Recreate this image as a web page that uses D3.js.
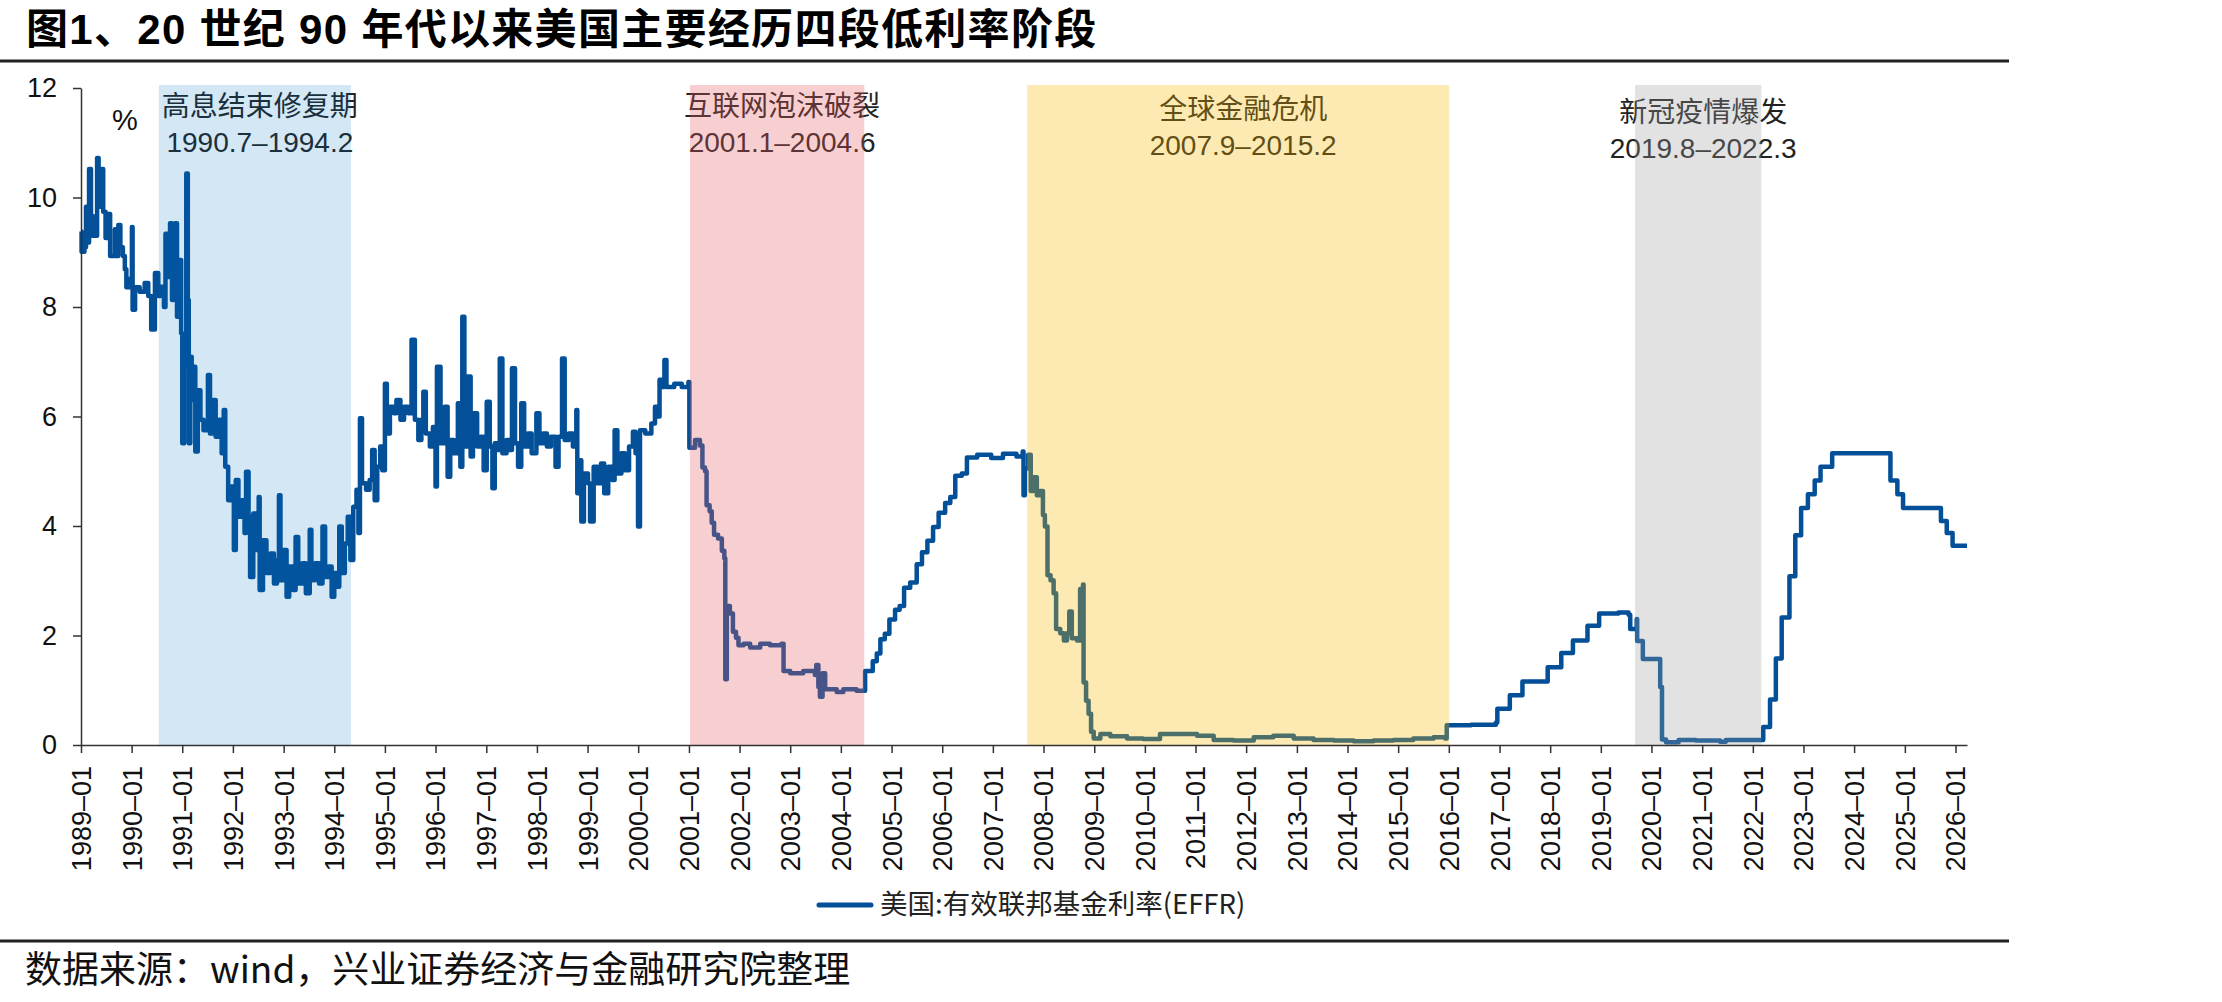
<!DOCTYPE html>
<html>
<head>
<meta charset="utf-8">
<script src="https://cdn.jsdelivr.net/npm/d3@7"></script>
<style>
  html, body { margin: 0; padding: 0; background: #fff; }
  svg { display: block; }
</style>
</head>
<body>
<div id="vis"></div>
<script>
// EFFR readings (date, %) taken off the chart, grouped by period
var rates1989 = [
  ["1989-01-01",9.38],["1989-01-05",9.01],["1989-01-26",9.09],["1989-02-06",9.83],["1989-02-17",9.18],
  ["1989-02-28",10.52],["1989-03-14",9.66],["1989-03-28",9.30],["1989-04-27",10.72],["1989-05-08",9.83],
  ["1989-05-30",10.52],["1989-06-10",9.74],["1989-06-27",9.26],["1989-07-15",9.70],["1989-07-30",8.93],
  ["1989-09-02",9.42],["1989-09-13",8.93],["1989-09-27",9.50],["1989-10-12",9.09],["1989-10-30",8.93],
  ["1989-11-13",8.69],["1989-11-24",8.36],["1989-12-20",8.52],["1990-01-03",9.46],["1990-01-08",7.95],
  ["1990-01-26",8.36],["1990-02-28",8.28],["1990-04-05",8.44],["1990-05-01",8.20],["1990-05-22",7.59],
  ["1990-06-18",8.62],["1990-07-12",8.20]
];

var rates1990 = [
  ["1990-07-30",8.37],["1990-08-22",8.00],["1990-09-02",9.34],["1990-09-20",8.55],["1990-10-05",9.53],
  ["1990-10-19",8.13],["1990-10-30",8.92],["1990-11-10",9.53],["1990-11-24",7.82],["1990-12-13",8.86],
  ["1990-12-24",7.52],["1991-01-01",5.51],["1991-01-15",6.91],["1991-01-30",10.44],["1991-02-10",8.13],
  ["1991-02-17",5.51],["1991-02-28",7.09],["1991-03-10",6.30],["1991-03-25",6.91],["1991-04-05",5.36],
  ["1991-04-23",6.48],["1991-05-12",5.94],["1991-06-03",5.75],["1991-06-24",5.81],["1991-07-05",6.76],
  ["1991-07-20",5.69],["1991-08-12",6.30],["1991-08-30",5.63],["1991-09-24",5.94],["1991-10-12",5.33],
  ["1991-10-27",6.12],["1991-11-07",5.08],["1991-11-28",4.47],["1991-12-16",4.72],["1992-01-08",3.56],
  ["1992-01-22",4.84],["1992-02-10",4.17],["1992-03-03",4.47],["1992-03-25",3.87],["1992-04-05",4.99],
  ["1992-04-23",4.17],["1992-05-04",3.07],["1992-05-27",4.23],["1992-06-18",3.56],["1992-07-05",4.53],
  ["1992-07-12",2.83],["1992-08-05",3.74],["1992-08-30",3.14],["1992-09-27",3.50],["1992-10-23",2.95],
  ["1992-11-14",3.38],["1992-11-28",4.56],["1992-12-09",3.01],["1993-01-01",3.56],["1993-01-22",2.71],
  ["1993-02-10",3.26],["1993-03-10",2.83],["1993-03-28",3.80],["1993-04-16",2.95],["1993-05-15",3.32],
  ["1993-06-10",2.77],["1993-07-08",3.93],["1993-07-20",3.01],["1993-08-15",3.32],["1993-09-13",2.95],
  ["1993-10-08",3.99],["1993-10-27",3.07],["1993-11-21",3.26],["1993-12-13",2.71],["1994-01-01",3.14],
  ["1994-01-22",2.89],["1994-02-06",3.99],["1994-02-24",3.14],["1994-03-18",3.68],["1994-04-08",4.17],
  ["1994-04-27",3.38]
];

var rates1994 = [
  ["1994-05-18",4.35],["1994-06-10",4.66],["1994-06-24",3.87],["1994-07-05",5.97],["1994-07-20",4.78],
  ["1994-08-18",4.66],["1994-09-13",4.84],["1994-10-01",5.39],["1994-10-19",4.47],["1994-11-07",5.08],
  ["1994-11-28",5.45],["1994-12-13",5.02],["1995-01-01",6.60],["1995-01-15",5.69],["1995-02-06",6.18],
  ["1995-03-07",6.06],["1995-03-25",6.30],["1995-04-23",5.94],["1995-05-19",6.18],["1995-06-18",6.06],
  ["1995-07-12",7.40],["1995-08-05",5.94],["1995-08-30",5.57],["1995-09-21",5.94],["1995-10-05",6.45],
  ["1995-10-23",5.69],["1995-11-21",5.45],["1995-12-13",5.81],["1996-01-01",4.72],["1996-01-11",6.91],
  ["1996-02-06",5.51],["1996-03-07",6.18],["1996-03-28",4.90],["1996-04-16",5.57],["1996-05-12",5.33],
  ["1996-06-10",6.24],["1996-06-28",5.08],["1996-07-12",7.82],["1996-07-27",5.45],["1996-08-18",6.73],
  ["1996-09-10",5.27],["1996-09-27",6.06],["1996-10-27",5.45],["1996-11-21",5.63],["1996-12-13",5.02],
  ["1997-01-04",6.27],["1997-01-26",5.45],["1997-02-14",4.69],["1997-03-03",5.51],["1997-03-25",5.39],
  ["1997-04-08",7.06],["1997-04-27",5.33],["1997-05-27",5.57],["1997-06-18",5.39],["1997-07-05",6.88],
  ["1997-07-27",5.51],["1997-08-18",5.08],["1997-09-10",6.24],["1997-10-01",5.45],["1997-10-27",5.69],
  ["1997-11-24",5.33],["1997-12-28",6.06],["1998-01-19",5.51],["1998-02-14",5.69],["1998-03-14",5.45],
  ["1998-04-12",5.63],["1998-05-15",5.08],["1998-06-06",5.63],["1998-07-01",7.06],["1998-07-20",5.57],
  ["1998-08-18",5.69],["1998-09-17",5.45],["1998-10-12",6.12],["1998-10-19",4.60],["1998-11-10",5.20],
  ["1998-11-17",4.08],["1998-12-06",4.96],["1999-01-04",4.78],["1999-01-19",4.08],["1999-02-14",5.08],
  ["1999-03-14",4.78],["1999-04-08",5.14],["1999-05-01",4.60],["1999-05-30",5.08],["1999-06-28",4.84],
  ["1999-07-15",5.75],["1999-08-04",4.96],["1999-09-02",5.33],["1999-09-27",5.02],["1999-10-27",5.45],
  ["1999-11-24",5.72],["1999-12-13",5.33],["1999-12-31",3.99],["2000-01-14",5.75],["2000-02-21",5.69],
  ["2000-04-05",5.87],["2000-05-01",6.18],["2000-05-22",6.00],["2000-06-03",6.67],["2000-06-24",6.54],
  ["2000-07-08",7.03],["2000-07-23",6.54],["2000-09-17",6.60],["2000-11-10",6.54],["2000-12-28",6.63]
];

var rates2001 = [
  ["2001-01-04",5.43],["2001-02-14",5.57],["2001-03-21",5.47],["2001-04-08",5.07],["2001-04-27",5.00],
  ["2001-05-08",4.38],["2001-05-30",4.27],["2001-06-14",4.06],["2001-07-01",3.84],["2001-07-30",3.77],
  ["2001-08-26",3.55],["2001-09-13",3.41],["2001-09-20",1.20],["2001-10-01",2.54],["2001-10-23",2.40],
  ["2001-11-14",2.07],["2001-12-06",1.96],["2001-12-24",1.82],["2002-01-30",1.85],["2002-03-18",1.78],
  ["2002-05-30",1.85],["2002-08-08",1.82],["2002-10-30",1.85],["2002-11-14",1.35],["2003-01-01",1.31],
  ["2003-04-05",1.35],["2003-06-28",1.28],["2003-07-08",1.46],["2003-07-23",1.06],["2003-08-03",0.88],
  ["2003-08-22",1.31],["2003-09-10",1.02],["2003-12-02",0.97],["2004-01-19",1.02],["2004-04-23",0.99],
  ["2004-06-24",1.35],["2004-08-18",1.53],["2004-09-16",1.67],["2004-10-12",1.93],["2004-11-13",2.03],
  ["2004-12-16",2.29],["2005-01-26",2.47],["2005-02-28",2.54],["2005-04-01",2.87],["2005-05-15",2.97],
  ["2005-07-01",3.30],["2005-08-08",3.52],["2005-09-16",3.73],["2005-10-27",3.98],["2005-12-06",4.24],
  ["2006-01-22",4.42],["2006-02-28",4.53],["2006-04-05",4.92],["2006-05-22",4.96],["2006-06-28",5.25],
  ["2006-09-10",5.30],["2006-12-20",5.24],["2007-03-15",5.32],["2007-06-20",5.27],["2007-08-04",5.36],
  ["2007-08-10",4.56],["2007-08-20",5.05]
];

var rates2007 = [
  ["2007-09-13",5.30],["2007-10-01",4.64],["2007-10-19",4.89],["2007-11-14",4.56],["2007-12-06",4.64],
  ["2007-12-28",4.20],["2008-01-11",3.99],["2008-01-30",3.10],["2008-02-21",3.01],["2008-03-14",2.77],
  ["2008-04-01",2.12],["2008-05-01",2.04],["2008-05-27",1.91],["2008-06-18",2.04],["2008-07-05",2.44],
  ["2008-07-23",1.95],["2008-08-30",1.91],["2008-09-21",2.85],["2008-10-12",2.93],["2008-10-16",1.14],
  ["2008-11-03",0.81],["2008-11-21",0.57],["2008-12-09",0.24],["2008-12-28",0.12],["2009-02-14",0.20],
  ["2009-04-27",0.16],["2009-08-26",0.12],["2009-12-20",0.11],["2010-04-20",0.20],["2010-09-13",0.20],
  ["2011-01-12",0.17],["2011-05-12",0.09],["2011-10-01",0.08],["2012-02-25",0.14],["2012-07-15",0.17],
  ["2012-12-09",0.12],["2013-05-01",0.09],["2013-09-24",0.08],["2014-02-14",0.07],["2014-07-08",0.08],
  ["2014-11-28",0.09],["2015-04-20",0.12],["2015-09-13",0.14],["2015-12-06",0.12],["2015-12-17",0.36]
];

var rates2016 = [
  ["2016-06-10",0.37],["2016-12-06",0.41],["2016-12-16",0.66],["2017-03-16",0.91],["2017-06-15",1.16],
  ["2017-12-14",1.42],["2018-03-22",1.68],["2018-06-14",1.91],["2018-09-27",2.18],["2018-12-20",2.40],
  ["2019-05-08",2.42],["2019-07-20",2.38],["2019-08-01",2.12],["2019-09-17",2.30],["2019-09-20",1.90],
  ["2019-10-31",1.57],["2020-03-04",1.06],["2020-03-17",0.10],["2020-04-15",0.05],["2020-07-15",0.09],
  ["2020-11-15",0.08],["2021-05-10",0.06],["2021-06-20",0.09],["2022-03-17",0.33],["2022-05-05",0.83],
  ["2022-06-16",1.58],["2022-07-28",2.33],["2022-09-22",3.08],["2022-11-03",3.83],["2022-12-15",4.33],
  ["2023-02-02",4.58],["2023-03-23",4.83],["2023-05-04",5.08],["2023-07-27",5.33],["2024-09-19",4.83],
  ["2024-11-08",4.58],["2024-12-19",4.33],["2025-09-18",4.09],["2025-10-30",3.87],["2025-12-11",3.64],
  ["2026-03-25",3.64]
];

// the four low-rate periods
var bandStart  = ["1990-07-16", "2001-01-08", "2007-09-05", "2019-09-05"];
var bandEnd    = ["1994-05-01", "2004-06-18", "2016-01-04", "2022-03-03"];
var bandTitle  = ["高息结束修复期", "互联网泡沫破裂", "全球金融危机", "新冠疫情爆发"];
var bandPeriod = ["1990.7–1994.2", "2001.1–2004.6", "2007.9–2015.2", "2019.8–2022.3"];

var yTicks = [0, 2, 4, 6, 8, 10, 12];

var titleText  = "图1、20 世纪 90 年代以来美国主要经历四段低利率阶段";
var legendText = "美国:有效联邦基金利率(EFFR)";
var sourceText = "数据来源：wind，兴业证券经济与金融研究院整理";

// styles
var lineColor   = "#034f98";
var bandFill    = ["#0070c0", "#e85f62", "#f8b900", "#9e9e9e"];
var bandOpacity = [0.17, 0.3, 0.3, 0.3];
var labelShift  = [0, 0, 3, 6];
var latin = "'Liberation Sans', Arial, 'Noto Sans CJK SC', sans-serif";
var cjk   = "'Noto Sans CJK SC', 'Liberation Sans', sans-serif";

var width = 2222, height = 1002;
var margin = { top: 88, left: 81, bottom: 257, right: 255 };

var parse = d3.timeParse("%Y-%m-%d");
var effr = [].concat(rates1989, rates1990, rates1994, rates2001, rates2007, rates2016)
  .map(function (d) { return { date: parse(d[0]), value: d[1] }; });

var svg = d3.select("#vis").append("svg")
  .attr("width", width)
  .attr("height", height);

svg.append("rect").attr("width", width).attr("height", height).attr("fill", "#fff");

var x = d3.scaleTime()
  .domain([parse("1989-01-01"), parse("2026-03-25")])
  .range([margin.left, width - margin.right]);

var y = d3.scaleLinear()
  .domain([0, 12])
  .range([height - margin.bottom, margin.top]);

// title + rules
svg.append("text")
  .attr("x", 26)
  .attr("y", 44)
  .attr("font-family", latin)
  .attr("font-weight", "bold")
  .attr("font-size", 42)
  .attr("letter-spacing", 1.3)
  .attr("fill", "#000")
  .text(titleText);

svg.append("line")
  .attr("x1", 0).attr("x2", 2009)
  .attr("y1", 61).attr("y2", 61)
  .attr("stroke", "#222").attr("stroke-width", 3);

svg.append("line")
  .attr("x1", 0).attr("x2", 2009)
  .attr("y1", 941).attr("y2", 941)
  .attr("stroke", "#222").attr("stroke-width", 3);

// band labels (drawn under the translucent bands)
var labels = svg.append("g");
bandTitle.forEach(function (t, i) {
  var cx = (x(parse(bandStart[i])) + x(parse(bandEnd[i]))) / 2 + 5;
  labels.append("text")
    .attr("x", cx).attr("y", 116 + labelShift[i])
    .attr("text-anchor", "middle")
    .attr("font-family", cjk)
    .attr("font-size", 28)
    .attr("fill", "#222")
    .text(t);
  labels.append("text")
    .attr("x", cx).attr("y", 152 + labelShift[i])
    .attr("text-anchor", "middle")
    .attr("font-family", latin)
    .attr("font-size", 28)
    .attr("fill", "#222")
    .text(bandPeriod[i]);
});

svg.append("text")
  .attr("x", 125).attr("y", 130)
  .attr("text-anchor", "middle")
  .attr("font-family", latin)
  .attr("font-size", 29)
  .attr("fill", "#111")
  .text("%");

// the rate line
var line = d3.line()
  .curve(d3.curveStepAfter)
  .x(function (d) { return x(d.date); })
  .y(function (d) { return y(d.value); });

svg.append("path")
  .datum(effr)
  .attr("d", line)
  .attr("fill", "none")
  .attr("stroke", lineColor)
  .attr("stroke-width", 4.5)
  .attr("stroke-linejoin", "round");

// shaded periods on top
svg.append("g").selectAll("rect")
  .data(bandStart).enter()
  .append("rect")
  .attr("x", function (d) { return x(parse(d)); })
  .attr("width", function (d, i) { return x(parse(bandEnd[i])) - x(parse(d)); })
  .attr("y", y(12) - 3)
  .attr("height", y(0) - y(12) + 3)
  .attr("fill", function (d, i) { return bandFill[i]; })
  .attr("fill-opacity", function (d, i) { return bandOpacity[i]; });

// axes
var xAxis = d3.axisBottom(x)
  .tickValues(d3.timeYear.range(parse("1989-01-01"), parse("2026-01-02")))
  .tickFormat(d3.timeFormat("%Y–%m"))
  .tickSize(8)
  .tickSizeOuter(0);

var gx = svg.append("g")
  .attr("transform", "translate(0," + y(0) + ")")
  .call(xAxis);

gx.selectAll("text")
  .attr("transform", "rotate(-90)")
  .attr("text-anchor", "end")
  .attr("x", -21)
  .attr("y", 0)
  .attr("dy", "0.35em")
  .attr("font-family", latin)
  .attr("font-size", 27)
  .attr("fill", "#111");

var yAxis = d3.axisLeft(y)
  .tickValues(yTicks)
  .tickSize(8)
  .tickSizeOuter(0)
  .tickPadding(16);

var gy = svg.append("g")
  .attr("transform", "translate(" + margin.left + ",0)")
  .call(yAxis);

gy.selectAll("text")
  .attr("font-family", latin)
  .attr("font-size", 27)
  .attr("fill", "#111");

[gx, gy].forEach(function (g) {
  g.select(".domain").attr("stroke", "#333").attr("stroke-width", 1.5);
  g.selectAll(".tick line").attr("stroke", "#333").attr("stroke-width", 1.5);
});

// legend
svg.append("line")
  .attr("x1", 819).attr("x2", 871)
  .attr("y1", 905).attr("y2", 905)
  .attr("stroke", lineColor)
  .attr("stroke-width", 5)
  .attr("stroke-linecap", "round");

svg.append("text")
  .attr("x", 880).attr("y", 914)
  .attr("font-family", cjk)
  .attr("font-size", 27.5)
  .attr("fill", "#222")
  .text(legendText);

// source
svg.append("text")
  .attr("x", 25).attr("y", 983)
  .attr("font-family", cjk)
  .attr("font-size", 37)
  .attr("fill", "#111")
  .text(sourceText);
</script>
</body>
</html>
